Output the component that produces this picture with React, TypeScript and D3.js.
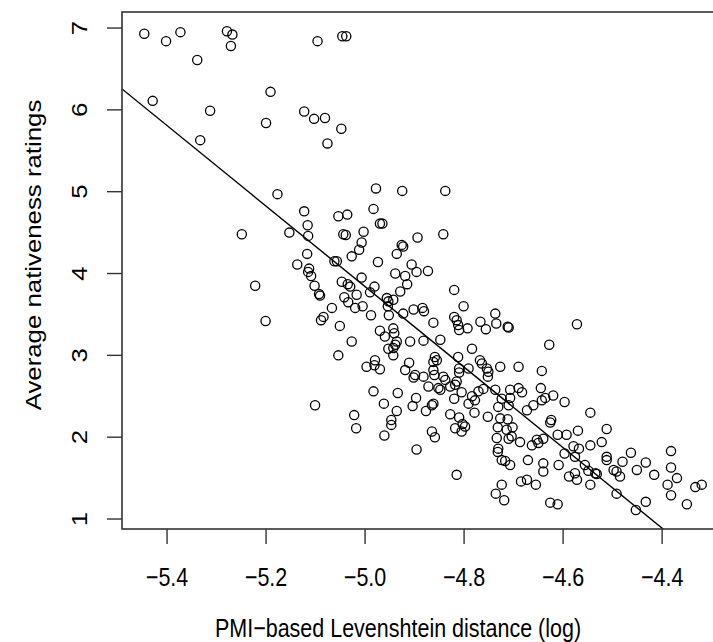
import React from "react";
import * as d3 from "d3";

// PMI-based Levenshtein distance (log), one value per speaker
const logDistance = [
  -5.446, -5.402, -5.373, -5.279, -5.268, -5.271, -5.339, -5.096, -5.429, -5.313,
  -5.191, -5.2, -5.123, -5.103, -5.081, -5.048, -5.076, -5.046, -5.038, -4.978,
  -4.925, -4.838, -5.333, -5.177, -5.123, -5.249, -5.153, -5.116, -5.115, -5.117,
  -5.137, -5.113, -5.115, -5.109, -5.102, -5.222, -5.201, -5.093, -5.091, -5.054,
  -5.036, -4.983, -4.97, -4.965, -5.044, -5.039, -5.003, -5.007, -5.012, -5.027,
  -5.062, -5.057, -4.974, -4.894, -4.842, -4.926, -4.923, -4.936, -4.906, -4.896,
  -4.873, -4.939, -4.919, -4.915, -4.929, -5.007, -5.047, -5.035, -5.03, -4.981,
  -4.99, -5.017, -5.042, -5.034, -5.02, -5.005, -5.067, -5.084, -5.089, -5.051,
  -5.027, -5.054, -4.988, -4.956, -4.953, -4.954, -4.943, -4.923, -4.952, -4.902,
  -4.884, -4.881, -4.862, -4.82, -4.801, -4.82, -4.815, -4.812, -4.81, -4.793,
  -4.767, -4.756, -4.737, -4.735, -4.97, -4.96, -4.943, -4.941, -4.936, -4.939,
  -4.943, -4.953, -4.943, -4.909, -4.882, -4.848, -4.784, -4.812, -4.859, -4.855,
  -4.862, -4.911, -4.919, -4.899, -4.902, -4.882, -4.862, -4.86, -4.842, -4.838,
  -4.815, -4.818, -4.81, -4.81, -4.791, -4.768, -4.764, -4.754, -4.751, -4.752,
  -4.727, -4.997, -4.98, -4.981, -4.97, -5.101, -5.022, -5.018, -4.983, -4.962,
  -4.934, -4.936, -4.947, -4.947, -4.961, -4.897, -4.904, -4.877, -4.862, -4.865,
  -4.865, -4.859, -4.896, -4.872, -4.852, -4.848, -4.828, -4.82, -4.805, -4.828,
  -4.81, -4.803, -4.798, -4.805, -4.818, -4.815, -4.784, -4.778, -4.791, -4.779,
  -4.771, -4.761, -4.752, -4.737, -4.731, -4.727, -4.732, -4.734, -4.731, -4.732,
  -4.724, -4.724, -4.724, -4.736, -4.719, -4.707, -4.69, -4.683, -4.645, -4.707,
  -4.71, -4.712, -4.714, -4.702, -4.71, -4.704, -4.717, -4.707, -4.687, -4.671,
  -4.663, -4.653, -4.64, -4.65, -4.673, -4.66, -4.643, -4.636, -4.62, -4.597,
  -4.624, -4.626, -4.611, -4.593, -4.57, -4.545, -4.512, -4.522, -4.545, -4.579,
  -4.568, -4.597, -4.576, -4.609, -4.64, -4.64, -4.685, -4.673, -4.655, -4.626,
  -4.611, -4.588, -4.576, -4.572, -4.556, -4.549, -4.545, -4.535, -4.532, -4.512,
  -4.512, -4.498, -4.492, -4.485, -4.48, -4.463, -4.451, -4.433, -4.416, -4.492,
  -4.433, -4.453, -4.382, -4.382, -4.37, -4.389, -4.382, -4.35, -4.333, -4.32,
  -4.712, -4.71, -4.572, -4.628, -4.69, -4.643,
];

// average nativeness rating, same order as logDistance
const nativeness = [
  6.93, 6.84, 6.95, 6.96, 6.92, 6.78, 6.61, 6.84, 6.11, 5.99,
  6.22, 5.84, 5.98, 5.89, 5.9, 5.77, 5.59, 6.9, 6.9, 5.04,
  5.01, 5.01, 5.63, 4.97, 4.76, 4.48, 4.5, 4.59, 4.46, 4.24,
  4.11, 4.06, 4.02, 3.97, 3.85, 3.85, 3.42, 3.75, 3.73, 4.7,
  4.72, 4.79, 4.61, 4.61, 4.48, 4.47, 4.51, 4.38, 4.29, 4.21,
  4.15, 4.15, 4.14, 4.44, 4.48, 4.35, 4.33, 4.24, 4.11, 4.02,
  4.03, 4.0, 3.97, 3.87, 3.78, 3.95, 3.9, 3.87, 3.84, 3.84,
  3.77, 3.74, 3.71, 3.65, 3.58, 3.6, 3.58, 3.47, 3.43, 3.36,
  3.17, 3.0, 3.49, 3.7, 3.66, 3.6, 3.68, 3.51, 3.49, 3.56,
  3.58, 3.54, 3.4, 3.8, 3.6, 3.47, 3.43, 3.37, 3.31, 3.33,
  3.41, 3.32, 3.51, 3.39, 3.3, 3.23, 3.33, 3.27, 3.17, 3.13,
  3.09, 3.08, 3.0, 3.17, 3.18, 3.19, 3.08, 2.98, 2.98, 2.94,
  2.92, 2.91, 2.82, 2.76, 2.73, 2.74, 2.82, 2.76, 2.74, 2.7,
  2.68, 2.64, 2.84, 2.79, 2.84, 2.94, 2.9, 2.84, 2.8, 2.74,
  2.86, 2.86, 2.94, 2.88, 2.83, 2.39, 2.27, 2.11, 2.56, 2.41,
  2.54, 2.32, 2.21, 2.15, 2.02, 2.48, 2.38, 2.32, 2.41, 2.39,
  2.07, 2.0, 1.85, 2.62, 2.6, 2.58, 2.62, 2.47, 2.55, 2.28,
  2.24, 2.16, 2.13, 2.07, 2.11, 1.54, 2.5, 2.45, 2.41, 2.3,
  2.56, 2.59, 2.25, 2.58, 2.37, 2.23, 2.12, 1.99, 1.86, 1.82,
  2.47, 1.72, 1.42, 1.31, 1.23, 2.58, 2.6, 2.55, 2.6, 2.48,
  2.39, 2.22, 2.09, 2.12, 1.98, 2.01, 1.71, 1.66, 1.94, 1.72,
  1.9, 1.97, 1.98, 1.93, 2.33, 2.39, 2.45, 2.48, 2.51, 2.43,
  2.21, 2.18, 2.03, 2.03, 2.08, 2.3, 2.1, 1.94, 1.9, 1.89,
  1.86, 1.8, 1.76, 1.66, 1.68, 1.58, 1.46, 1.48, 1.42, 1.2,
  1.18, 1.52, 1.56, 1.48, 1.66, 1.59, 1.42, 1.56, 1.55, 1.76,
  1.72, 1.6, 1.58, 1.52, 1.7, 1.81, 1.6, 1.69, 1.54, 1.31,
  1.21, 1.11, 1.83, 1.63, 1.5, 1.42, 1.29, 1.18, 1.39, 1.42,
  3.35, 3.34, 3.38, 3.13, 2.86, 2.81,
];

const xTicks = [-5.4, -5.2, -5.0, -4.8, -4.6, -4.4];
const yTicks = [1, 2, 3, 4, 5, 6, 7];

// least-squares line (abline)
const fitIntercept = -20.76;
const fitSlope = -4.92;

const xLabel = "PMI\u2212based Levenshtein distance (log)";
const yLabel = "Average nativeness ratings";

const W = 713;
const H = 642;
const plot = { left: 122, top: 12, right: 724, bottom: 529 };

const App = () => {
  const x = d3.scaleLinear().domain([-5.491, -4.275]).range([plot.left, plot.right]);
  const y = d3.scaleLinear().domain([0.878, 7.196]).range([plot.bottom, plot.top]);
  const fmt = d3.format(".1f");
  const font = "'Liberation Sans', Arial, Helvetica, sans-serif";
  const axisCol = "#333";
  const fs = 21.5;
  const stretch = 1.2; // the original picture is stretched vertically

  const points = logDistance.map((d, i) => ({ x: d, y: nativeness[i] }));

  const fitLine = d3
    .line<number>()
    .x((d) => x(d))
    .y((d) => y(fitIntercept + fitSlope * d))(x.domain());

  return (
    <svg
      width={W}
      height={H}
      style={{ position: "absolute", left: 0, top: 0, background: "#fff" }}
      fontFamily={font}
    >
      <defs>
        <clipPath id="plotClip">
          <rect x={plot.left} y={plot.top} width={plot.right - plot.left} height={plot.bottom - plot.top} />
        </clipPath>
      </defs>

      {/* points */}
      <g fill="none" stroke="#000" strokeWidth={1.3}>
        {points.map((p, i) => (
          <circle key={i} cx={x(p.x)} cy={y(p.y)} r={4.6} />
        ))}
      </g>

      {/* regression line */}
      <path d={fitLine || ""} fill="none" stroke="#000" strokeWidth={1.4} clipPath="url(#plotClip)" />

      {/* box */}
      <rect
        x={plot.left}
        y={plot.top}
        width={plot.right - plot.left}
        height={plot.bottom - plot.top}
        fill="none"
        stroke={axisCol}
        strokeWidth={1.6}
      />

      {/* x axis */}
      <g>
        {xTicks.map((t) => (
          <g key={t}>
            <line x1={x(t)} x2={x(t)} y1={plot.bottom} y2={plot.bottom + 15} stroke={axisCol} strokeWidth={1.4} />
            <text
              transform={`translate(${x(t)},${plot.bottom + 57}) scale(1,${stretch})`}
              textAnchor="middle"
              fontSize={fs}
              fill="#000"
            >
              {fmt(t)}
            </text>
          </g>
        ))}
        <text
          transform={`translate(398,${H - 5}) scale(1,${stretch})`}
          textAnchor="middle"
          fontSize={fs}
          fill="#000"
        >
          {xLabel}
        </text>
      </g>

      {/* y axis */}
      <g>
        {yTicks.map((t) => (
          <g key={t}>
            <line x1={plot.left - 15} x2={plot.left} y1={y(t)} y2={y(t)} stroke={axisCol} strokeWidth={1.4} />
            <text
              transform={`translate(${plot.left - 35},${y(t)}) rotate(-90) scale(${stretch},1)`}
              textAnchor="middle"
              fontSize={fs}
              fill="#000"
            >
              {t}
            </text>
          </g>
        ))}
        <text
          transform={`translate(41,255) rotate(-90) scale(${stretch},1)`}
          textAnchor="middle"
          fontSize={fs}
          fill="#000"
        >
          {yLabel}
        </text>
      </g>
    </svg>
  );
};

export default App;
